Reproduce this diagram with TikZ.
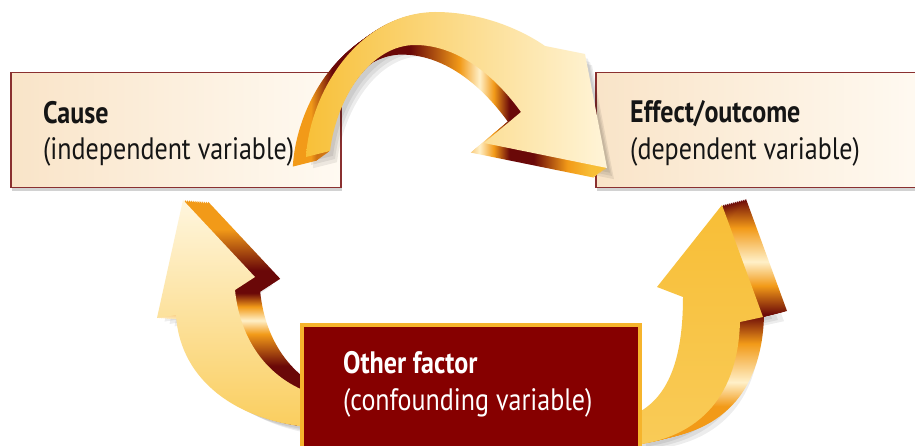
\documentclass[tikz,border=0pt]{standalone}
\usepackage{fontspec}
\setmainfont{PT Sans}[FakeStretch=0.84]
\usetikzlibrary{shadows}
\definecolor{boxline}{HTML}{8A3030}
\definecolor{creamA}{HTML}{F9E4C8}
\definecolor{creamB}{HTML}{FFFAF2}
\definecolor{maroon}{HTML}{860000}
\definecolor{goldline}{HTML}{F6B42C}
\definecolor{dkred}{HTML}{6A0808}
\definecolor{orng}{HTML}{F29A18}
\definecolor{hilite}{HTML}{FFF0C8}
\definecolor{goldtip}{HTML}{F8C23A}
\definecolor{txtdark}{HTML}{151515}
\pgfdeclarehorizontalshading{topside}{100bp}{color(0bp)=(orng); color(25bp)=(orng); color(28bp)=(orng); color(31.5bp)=(dkred); color(44.5bp)=(dkred); color(52.7bp)=(orng); color(56bp)=(hilite); color(58.4bp)=(orng); color(61bp)=(dkred); color(65bp)=(dkred); color(70.6bp)=(orng); color(75bp)=(goldtip); color(100bp)=(goldtip)}
\pgfdeclareverticalshading{rightside}{100bp}{color(0bp)=(orng); color(25bp)=(orng); color(32bp)=(orng); color(37bp)=(hilite); color(45bp)=(orng); color(51bp)=(dkred); color(57bp)=(orng); color(62bp)=(hilite); color(69bp)=(orng); color(75bp)=(dkred); color(100bp)=(dkred)}
\pgfdeclareverticalshading{leftside}{100bp}{color(0bp)=(dkred); color(25bp)=(dkred); color(39bp)=(dkred); color(46bp)=(orng); color(49bp)=(hilite); color(52bp)=(orng); color(55bp)=(dkred); color(60bp)=(dkred); color(69bp)=(orng); color(75bp)=(orng); color(100bp)=(orng)}
\def\toparrowpath{(306,157) .. controls (310,90) and (360,13) .. (435,12) .. controls (482,12) and (522,30) .. (545,46) -- (585,54) -- (607,168) -- (484,143) -- (521,112) .. controls (492,72) and (455,45) .. (415,45) .. controls (372,45) and (337,95) .. (330,151) -- cycle}
\def\leftarrowpath{(183,200) -- (255,277) -- (235,290) .. controls (240,340) and (268,382) .. (320,396) -- (320,428) .. controls (240,424) and (180,382) .. (176,315) -- (157,318) -- cycle}
\def\rightarrowpath{(722,205) -- (763,317) -- (740,322) .. controls (738,390) and (705,440) .. (625,446) -- (625,418) .. controls (668,405) and (683,360) .. (683,297) -- (657,287) -- cycle}
\begin{document}
\begin{tikzpicture}[x=1pt,y=-1pt,
  lightbox/.style={draw=boxline, line width=1.5pt, left color=creamA, right color=creamB,
    drop shadow={opacity=0.35, shadow xshift=1.5pt, shadow yshift=-3pt},
    minimum width=330pt, minimum height=115pt, anchor=north west, inner sep=0pt},
  darkbox/.style={draw=goldline, line width=3.5pt, fill=maroon,
    minimum width=338pt, minimum height=135pt, anchor=north west, inner sep=0pt},
  headtxt/.style={anchor=base west, inner sep=0pt, font=\fontsize{31}{36}\selectfont\bfseries},
  subtxt/.style={anchor=base west, inner sep=0pt, font=\fontsize{31}{36}\selectfont},
  arrowshadow/.style={fill=black, opacity=0.07}]
\useasboundingbox (0,0) rectangle (915,446);
\fill[white] (0,0) rectangle (915,446);

% left arrow (other factor -> cause)
\foreach \k in {3,5,7} {\fill[arrowshadow, shift={(2.5*\k,1.2*\k)}] \leftarrowpath;}
\foreach \k in {1,...,12} {\shade[shading=leftside, shift={(2.1*\k,0.15*\k)}] \leftarrowpath;}
\shade[top color=hilite!60!white, bottom color=goldtip!75!hilite] \leftarrowpath;

% right arrow (other factor -> effect)
\foreach \k in {3,5,7} {\fill[arrowshadow, shift={(3*\k,0.6*\k)}] \rightarrowpath;}
\foreach \k in {1,...,12} {\shade[shading=rightside, shift={(2.0*\k,-0.5*\k)}] \rightarrowpath;}
\shade[top color=goldtip!90!orng, bottom color=goldtip!85!white] \rightarrowpath;

% boxes
\node[lightbox] (cause) at (10,72) {};
\node[lightbox] (effect) at (595,72) {};
\node[darkbox] (other) at (300,323) {};

% top arrow (cause -> effect)
\foreach \k in {3,5,7} {\fill[arrowshadow, shift={(1*\k,1.6*\k)}] \toparrowpath;}
\foreach \k in {1,...,12} {\shade[shading=topside, shift={(-1.1*\k,0.8*\k)}] \toparrowpath;}
\shade[left color=goldtip!95!orng, middle color=goldtip!45!hilite, right color=hilite!70!white] \toparrowpath;

% texts
\node[headtxt, text=txtdark] (causeh) at (43,124) {Cause};
\node[subtxt, text=txtdark] (causes) at (43,160) {(independent variable)};
\node[headtxt, text=txtdark] (effecth) at (630,123) {Effect/outcome};
\node[subtxt, text=txtdark] (effects) at (630,160) {(dependent variable)};
\node[headtxt, text=white] (otherh) at (343,373) {Other factor};
\node[subtxt, text=white] (others) at (343,410) {(confounding variable)};
\end{tikzpicture}
\end{document}
